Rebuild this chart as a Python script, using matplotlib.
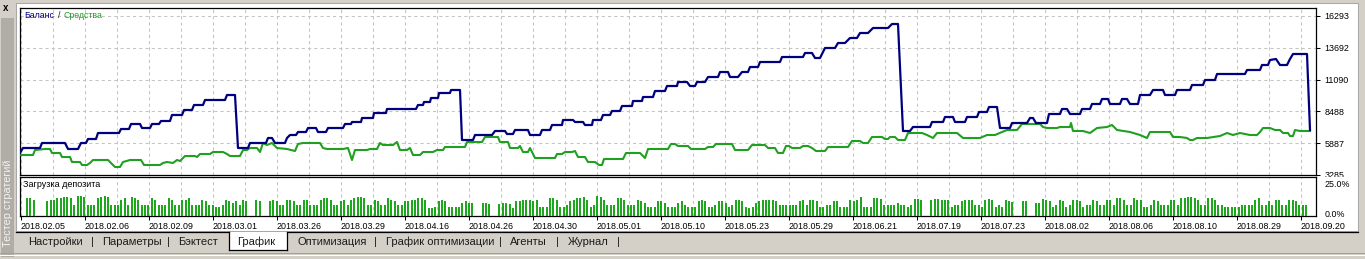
import matplotlib
matplotlib.use('Agg')
import matplotlib.pyplot as plt
from matplotlib.patches import Rectangle
from matplotlib.lines import Line2D
import matplotlib.transforms as mtransforms
import numpy as np

plt.rcParams['font.family'] = ['Liberation Sans', 'DejaVu Sans']

# ---------------- data ----------------
y_ticks = [16293, 13692, 11090, 8488, 5887, 3285]
date_labels = ['2018.02.05', '2018.02.06', '2018.02.09', '2018.03.01', '2018.03.26', '2018.03.29',
               '2018.04.16', '2018.04.26', '2018.04.30', '2018.05.01', '2018.05.10', '2018.05.23',
               '2018.05.29', '2018.06.21', '2018.07.19', '2018.07.23', '2018.08.02', '2018.08.06',
               '2018.08.10', '2018.08.29', '2018.09.20']

bal_t = [0, 3, 20, 22, 45, 48, 58, 61, 66, 68, 76, 78, 99, 101, 109, 111, 120, 122, 130, 132, 139, 141,
         150, 152, 162, 164, 172, 174, 183, 185, 205, 207, 215, 218,
         228, 230, 246, 248, 252, 255, 265, 267, 270, 276, 278, 286, 288, 296, 298, 306, 308, 323, 325,
         331, 332, 341, 342, 353, 354, 366, 367, 396, 398, 403, 404, 410, 411, 418, 419, 430, 431, 440, 442,
         453, 455, 472, 475, 485, 487, 493, 495, 508, 510, 520, 522, 530, 532, 542, 543, 553, 555, 563, 565,
         572, 573, 581, 583, 590, 592, 600, 602, 612, 613, 622, 623, 633, 635, 645, 647, 657, 658, 667, 670,
         675, 677, 685, 688, 698, 700, 708, 710, 718, 722, 728, 730, 738, 740, 760, 762, 783, 785, 792, 795,
         800, 805, 815, 818, 825, 830, 837, 840, 848, 853, 868, 872, 878, 883,
         890, 893, 910, 912, 923, 925, 933, 935, 945, 947, 957, 959, 967, 969, 977, 980, 990, 992, 1007,
         1010, 1013, 1016, 1027, 1029, 1040, 1042, 1047, 1050, 1060, 1062, 1070, 1072, 1080, 1082, 1088,
         1090, 1100, 1102, 1107, 1110, 1118, 1120, 1130, 1133, 1143, 1145, 1155, 1157, 1170, 1172, 1183,
         1185, 1195, 1197, 1225, 1227, 1240, 1242, 1248, 1250, 1256, 1260, 1267, 1270, 1273, 1287, 1290]
bal_v = [5085, 5494, 5494, 5903, 5903, 5412, 5412, 5903, 5903, 6230, 6230, 6721, 6721, 7048, 7048, 7457,
         7457, 7130, 7130, 7457, 7457, 7702, 7702, 8193, 8193, 8602, 8602, 9011, 9011, 9420, 9420, 9829,
         9829, 5494,
         5494, 5903, 5903, 6312, 6312, 5903, 5903, 6312, 6557, 6557, 6802, 6802, 7130, 7130, 6802, 6802,
         7130, 7130, 7457, 7457, 7620, 7620, 7948, 7948, 8357, 8357, 8684, 8684, 9011, 9011, 9256, 9256,
         9584, 9584, 9993, 9993, 10238, 10238, 6148,
         6148, 6557, 6557, 6884, 6884, 6639, 6639, 6966, 6966, 6557, 6557, 6966, 6966, 7375, 7375, 7784,
         7784, 7620, 7620, 7375, 7375, 7784, 7784, 8193, 8193, 8520, 8520, 8929, 8929, 9338, 9338, 9665,
         9665, 10156, 10156, 10565, 10565, 10892, 10892, 10565, 10565, 10892, 10892, 11301, 11301, 11710,
         11710, 11301, 11301, 11710, 11710, 12119, 12119, 12528, 12528, 12937, 12937, 13265, 13265, 12856,
         12856, 13674, 13674, 14083, 14083, 14492, 14492, 14901, 14901, 15310, 15310, 15637, 15637, 6884,
         6884, 7211, 7211, 7620, 7620, 8029, 8029, 7620, 7620, 8029, 8029, 8438, 8438, 8847, 8847, 7130,
         7130, 7539, 7539, 7948, 7948, 7539, 7539, 8275, 8275, 8684, 8684, 8275, 8275, 8684, 8684, 9093,
         9093, 9502, 9502, 9093, 9093, 9502, 9502, 9093, 9093, 9829, 9829, 10238, 10238, 9829, 9829,
         10238, 10238, 10647, 10647, 11056, 11056, 11547, 11547, 11874, 11874, 12283, 12283, 12692,
         12774, 12283, 12283, 12774, 13183, 13183, 6966]

eq_t = [0, 13, 15, 25, 30, 32, 40, 42, 50, 52, 60, 62, 67, 70, 73, 88, 90, 95, 100, 103, 110, 121, 124,
        140, 143, 147, 153, 157, 160, 165, 175, 177, 180, 190, 193, 203, 207, 210, 220, 223, 227, 230,
        237, 240, 243, 247, 252, 257, 267, 275, 278, 283, 300, 303, 307, 323, 328, 332, 335, 347, 350,
        357, 360, 363, 373, 377, 380, 387, 390, 393, 400, 403, 413, 417, 423, 425, 437,
        445, 447, 462, 465, 478, 480, 488, 490, 498, 500, 503, 508, 510, 515, 535, 537, 542, 545, 552, 555,
        558, 565, 568, 575, 579, 582, 584, 603, 606, 620, 625, 628, 648, 651, 655, 658, 668, 671, 685, 688,
        693, 696, 712, 715, 728, 732, 745, 748, 755, 758, 763, 766, 769, 772, 780, 783, 788, 792, 796, 805,
        808, 828, 832, 840, 843, 848, 852, 862, 865, 868, 870, 875, 878, 885,
        888, 902, 907, 913, 917, 937, 943, 960, 967, 975, 982, 987, 997, 1002, 1020, 1023, 1027, 1037, 1040,
        1050, 1051, 1053, 1063, 1070, 1077, 1087, 1092, 1097, 1110, 1120, 1127, 1130, 1150, 1153, 1160,
        1167, 1170, 1173, 1177, 1187, 1200, 1207, 1213, 1220, 1230, 1237, 1240, 1243, 1250, 1255, 1260,
        1263, 1268, 1270, 1273, 1275, 1280, 1290]
eq_v = [4921, 4921, 5330, 5412, 5412, 5085, 5085, 4757, 4757, 4348, 4348, 4103, 4103, 4267, 4512, 4512,
        4348, 3939, 3939, 4348, 4512, 4512, 4103, 4103, 4267, 4348, 4267, 4512, 4430, 4839, 4839, 4757,
        5003, 5003, 5166, 5166, 5003, 4839, 4839, 5330, 5330, 5494, 5494, 5166, 5903, 5739, 5903, 5494,
        5412, 5248, 5821, 5903, 5903, 5494, 5412, 5412, 5494, 4512, 5330, 5330, 5412, 5412, 5903, 5739,
        5739, 5984, 5330, 5330, 5494, 4921, 4921, 5166, 5166, 5330, 5330, 5575, 5575,
        5575, 5984, 5984, 6393, 6393, 5984, 5984, 5494, 5494, 5657, 5166, 5166, 5494, 4676, 4676, 5003,
        5003, 5166, 5166, 5248, 4757, 4757, 4348, 4348, 4103, 4103, 4594, 4594, 5085, 5085, 4676, 5412,
        5412, 5821, 5821, 5657, 5657, 5412, 5412, 5575, 5575, 5821, 5821, 5330, 5330, 5739, 5739, 5494,
        5494, 5085, 5085, 5657, 5657, 5494, 5494, 5657, 5657, 5494, 5248, 5248, 5575, 5575, 6066, 6066,
        5903, 5903, 6393, 6393, 6230, 6230, 6393, 6393, 6148, 6148,
        6721, 6721, 6557, 6312, 6721, 6721, 6312, 6312, 6557, 6557, 6802, 6966, 6966, 7457, 7457, 7211,
        7130, 7130, 7211, 7211, 7539, 6884, 6884, 6721, 7130, 7211, 7375, 6966, 6802, 6557, 6312, 6802,
        6802, 6393, 6393, 6312, 6148, 6148, 6312, 6312, 6475, 6721, 6557, 6721, 6557, 6557, 6802, 7130,
        7130, 6966, 6966, 6721, 6721, 6475, 6475, 6966, 6884, 6884]

load = [11.5, 11.5, 10.5, 0, 0, 0, 9.5, 10.5, 10.5, 11.5, 11.5, 12, 12, 11.5, 7, 13, 13, 12, 7, 7,
        7, 11.5, 12, 13, 12, 7, 7, 7, 10.5, 11.5, 7, 12, 11.5, 10.5, 7, 7, 7, 11.5, 10.5, 7,
        7, 7, 11.5, 10.5, 7, 7, 10.5, 10.5, 11.5, 7, 7, 7, 10.5, 9.5, 7, 7, 6, 6, 7, 10.5,
        9.5, 8.5, 9.5, 7, 10.5, 9.5, 0, 0, 10.5, 9.5, 0, 0, 9.5, 10.5, 9.5, 7, 7, 10.5, 10.5, 9.5,
        7, 7, 10.5, 10.5, 7, 7, 7, 10.5, 11.5, 11.5, 10.5, 7, 7, 9.5, 10.5, 7, 10.5, 11.5, 12, 12,
        11.5, 7, 7, 10.5, 9.5, 7, 7, 11.5, 10.5, 9.5, 7, 7,
        9.5, 9.5, 10.5, 10.5, 11.5, 11.5, 10.5, 5, 5, 6, 9.5, 10.5, 9.5, 6, 6, 6, 6,
        8.5, 9.5, 8.5, 8.5, 0, 0, 8.5, 8.5, 8, 0, 0, 8, 8.5, 8.5, 8, 5,
        9.5, 9.5, 10.5, 10.5, 10.5, 9.5, 10.5, 6, 6, 6, 11.5, 11.5, 10.5, 6, 6, 7,
        9.5, 10.5, 11.5, 11.5, 12, 10.5, 6, 7, 13, 12, 10.5, 7, 7, 7, 11.5, 11.5, 10.5, 7, 7, 7,
        10.5, 9.5, 8.5, 6, 6, 6, 9.5, 9.5, 8.5, 6, 6, 6, 8.5, 9.5, 7, 6, 6, 6, 9.5, 10.5, 9.5,
        6, 6, 7, 9.5, 9.5, 8.5, 6, 7, 10.5, 10.5, 9.5, 6, 5, 6,
        8.5, 9.5, 10.5, 10.5, 10.5, 10.5, 9.5, 7, 7, 7, 7, 7, 7, 9.5, 10.5, 7, 10.5, 10.5, 9.5,
        6, 6, 7, 7, 9.5, 9.5, 6, 6, 6, 10.5, 9.5, 10.5,
        12, 6, 6, 6, 11.5, 11.5, 11, 7, 7, 7, 7, 8.5, 7, 7, 6, 7, 11, 11, 10.5, 0, 0,
        10.5, 11, 11, 10.5, 10.5, 10, 6, 7, 7, 9.5, 10.5, 10.5, 10, 7, 7, 6, 10.5, 11, 10.5,
        6, 7, 6, 10.5, 9.5, 9, 0, 0, 9.5, 9.5, 0, 0, 8.5, 8.5, 11, 10.5, 9.5, 6, 7, 10.5, 9.5,
        6, 7, 10.5, 10.5, 9.5, 6, 7, 7, 10.5, 9.5, 7, 7, 10.5, 10.5, 7, 11.5, 11.5, 10.5, 7, 7,
        11.5, 10.5, 10.5, 6, 6, 7, 10.5, 9.5, 7, 7, 7, 10.5, 10.5, 7,
        11.5, 11.5, 12, 12, 11.5, 10.5, 7, 7, 11.5, 11.5, 10.5,
        7, 7, 6, 6, 6, 6, 6, 7, 7, 7, 7, 10.5, 11.5, 7, 7, 9.5, 7, 10.5, 10.5, 7, 7,
        10.5, 10.5, 9.5, 7, 7, 7]

# ---------------- layout helpers ----------------
W, H = 1365, 259
fig = plt.figure(figsize=(W / 100, H / 100), dpi=100)
fig.patch.set_facecolor('#d4d0c8')


def fx(x):
    return x / W


def fy(y):
    return 1 - y / H


def rect(x0, y0, x1, y1, **kw):
    r = Rectangle((fx(x0), fy(y1)), (x1 - x0) / W, (y1 - y0) / H, transform=fig.transFigure, **kw)
    fig.add_artist(r)
    return r


def hline(x0, x1, y, **kw):
    fig.add_artist(Line2D([fx(x0), fx(x1)], [fy(y), fy(y)], transform=fig.transFigure, **kw))


def vline(x, y0, y1, **kw):
    fig.add_artist(Line2D([fx(x), fx(x)], [fy(y0), fy(y1)], transform=fig.transFigure, **kw))


# window chrome
rect(16, 3, 1358, 231, facecolor='white', edgecolor='#a8a8a8', lw=0.75, zorder=-5)
rect(1, 18, 14, 257, facecolor='#b0ada6', edgecolor='none', zorder=-5)
fig.text(fx(6), fy(8), 'x', fontsize=7, fontweight='bold', ha='center', va='center', color='black')
fig.text(fx(8), fy(203), 'Тестер стратегий', rotation=90, fontsize=7.8, color='#f4f4f4',
         ha='center', va='center')

# tab row
hline(16, 229, 231.5, color='black', lw=0.9, zorder=3)
hline(287, 1358, 231.5, color='black', lw=0.9, zorder=3)
rect(229, 231.5, 287, 250, facecolor='white', edgecolor='none', zorder=2.5)
vline(229, 231.5, 250, color='black', lw=0.9, zorder=3)
vline(287, 231.5, 250, color='black', lw=0.9, zorder=3)
hline(229, 287, 250, color='black', lw=0.9, zorder=3)
hline(0, W, 253, color='#a0a0a0', lw=0.75, zorder=3)
hline(0, W, 255, color='#ffffff', lw=0.75, zorder=3)

tabs = ['Настройки', 'Параметры', 'Бэктест', 'График', 'Оптимизация', 'График оптимизации', 'Агенты', 'Журнал']
tab_x = [28, 102, 178, 237, 297, 386, 510, 568]
for lab, x in zip(tabs, tab_x):
    fig.text(fx(x), fy(242), lab, fontsize=8, ha='left', va='center', color='#1a1a1a', zorder=4)
for x in [92, 168, 375, 500, 557, 618]:
    fig.text(fx(x), fy(242), '|', fontsize=8, ha='center', va='center', color='#1a1a1a', zorder=4)

# ---------------- main chart ----------------
L, R = 20, 1316
ax = fig.add_axes([fx(L), fy(175), (R - L) / W, (175 - 8) / H], zorder=1)
ax.set_facecolor('white')
ax.set_xlim(0, R - L)
ax.set_ylim(3285, 16946)
grid_t = np.arange(1, R - L, 32)
ax.set_xticks(grid_t)
ax.tick_params(axis='x', length=0, labelbottom=False)
ax.set_yticks(y_ticks)
ax.set_yticklabels([str(v) for v in y_ticks])
ax.yaxis.tick_right()
ax.tick_params(axis='y', length=3, width=0.75, pad=3, labelsize=6.4, colors='black')
ax.grid(True, color='#c4c4c4', linestyle=(0, (3, 3)), linewidth=0.75)
for s in ax.spines.values():
    s.set_linewidth(0.9)
    s.set_color('black')

ax.plot(eq_t, eq_v, color='#20a020', lw=1.5, zorder=3)
ax.plot(bal_t, bal_v, color='#00007f', lw=1.6, zorder=4)

fig.text(fx(24), fy(16), 'Баланс', color='#00007f', fontsize=6.3, ha='left', va='center', zorder=5)
fig.text(fx(57.5), fy(16), '/', color='#202020', fontsize=6.3, ha='left', va='center', zorder=5)
fig.text(fx(63), fy(16), 'Средства', color='#20a020', fontsize=6.3, ha='left', va='center', zorder=5)

# cover lower half of the last main label (as in the terminal)
rect(1317, 177, 1357, 192, facecolor='white', edgecolor='none', zorder=1.5)

# ---------------- deposit load sub-chart ----------------
ax2 = fig.add_axes([fx(L), fy(216), (R - L) / W, (216 - 177) / H], zorder=2)
ax2.set_facecolor('white')
ax2.set_xlim(0, R - L)
ax2.set_ylim(0, 25)
n = len(load)
bar_t = 7 + np.arange(n) * (1279 / (n - 1))
ax2.bar(bar_t, load, width=2.0, color='#1fa61f', antialiased=False, zorder=3)
ax2.set_xticks(grid_t, minor=True)
major_t = np.arange(1, R - L, 64)[:len(date_labels)]
ax2.set_xticks(major_t)
ax2.set_xticklabels(date_labels)
for lbl in ax2.get_xticklabels():
    lbl.set_horizontalalignment('left')
ax2.tick_params(axis='x', which='major', length=3, width=0.75, pad=1, labelsize=6.4)
ax2.tick_params(axis='x', which='minor', length=0)
ax2.grid(True, axis='x', which='both', color='#c4c4c4', linestyle=(0, (3, 3)), linewidth=0.75)
ax2.yaxis.tick_right()
ax2.set_yticks([0, 25])
ax2.set_yticklabels(['0.0%', '25.0%'])
ax2.tick_params(axis='y', length=0, pad=6, labelsize=6.4)
ylbls = ax2.get_yticklabels()
ylbls[0].set_transform(ylbls[0].get_transform() + mtransforms.ScaledTranslation(0, 0.025, fig.dpi_scale_trans))
ylbls[1].set_transform(ylbls[1].get_transform() + mtransforms.ScaledTranslation(0, -0.065, fig.dpi_scale_trans))
for s in ax2.spines.values():
    s.set_linewidth(0.9)
    s.set_color('black')
ax2.text(3, 20, 'Загрузка депозита', fontsize=6.5, ha='left', va='center', color='black', zorder=5)

fig.savefig('out.png', dpi=100, facecolor=fig.get_facecolor())
